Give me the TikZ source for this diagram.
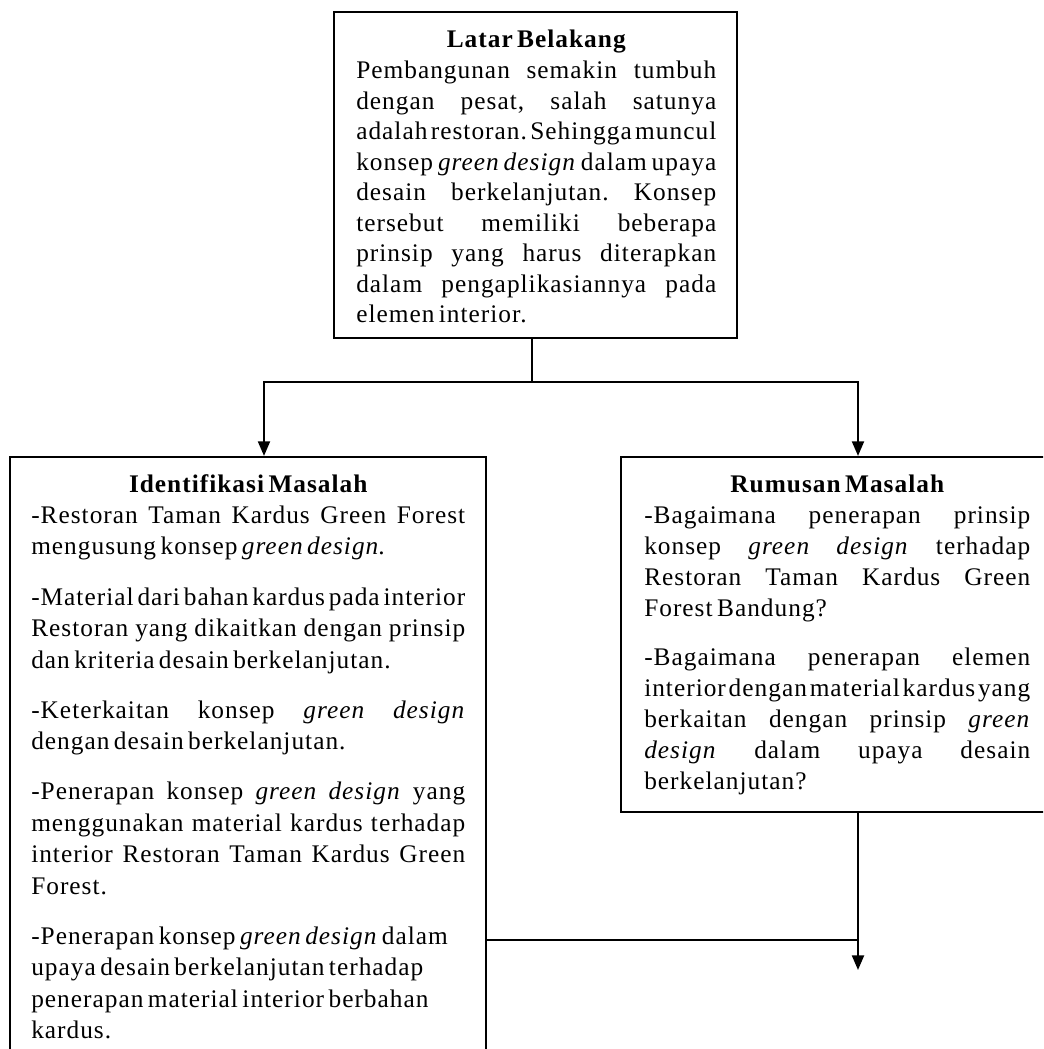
\documentclass[tikz,border=0pt]{standalone}
\usepackage{fontspec}
\setmainfont{Liberation Serif}[LetterSpace=4]
\usetikzlibrary{arrows.meta,fit}
\setlength{\parskip}{0pt}
\frenchspacing
\newcommand{\jl}[1]{\hbox to\linewidth{\spaceskip=0.22em plus 1fil minus 0.18em\relax\xspaceskip=\spaceskip #1}}
\newcommand{\hd}[1]{\hbox to\linewidth{\hfil\bfseries #1\hfil}}
\newcommand{\gd}{\textit{green design}}
\newcommand{\pgap}{\vspace{14pt}}
\begin{document}
\begin{tikzpicture}[x=0.75pt,y=-0.75pt,
  box/.style={draw, line width=1.6pt, inner sep=0pt},
  txt/.style={inner sep=0pt, anchor=base west},
  conn/.style={line width=1.6pt},
  arr/.style={conn, -{Triangle[length=11pt,width=9pt]}}]
\useasboundingbox (0,0) rectangle (1043,1049);
\clip (0,0) rectangle (1043,1049);
% boxes
\node[box, fit={(334,12) (737,338)}] (lb) {};
\node[box, fit={(10,457) (486,1080)}] (idm) {};
\node[box, fit={(621,457) (1060,812)}] (rm) {};
% texts
\node[txt, text width=270pt] (lbt) at (356,48) {\fontsize{19}{22.9}\selectfont
\hd{Latar Belakang}
\jl{Pembangunan semakin tumbuh}
\jl{dengan pesat, salah satunya}
\jl{adalah restoran. Sehingga muncul}
\jl{konsep \gd{} dalam upaya}
\jl{desain berkelanjutan. Konsep}
\jl{tersebut memiliki beberapa}
\jl{prinsip yang harus diterapkan}
\jl{dalam pengaplikasiannya pada}
elemen interior.\par};
\node[txt, text width=325.5pt] (idmt) at (31,492) {\fontsize{19}{23.6}\selectfont
\hd{Identifikasi Masalah}
\jl{-Restoran Taman Kardus Green Forest}
mengusung konsep \gd.\par\pgap
\jl{-Material dari bahan kardus pada interior}
\jl{Restoran yang dikaitkan dengan prinsip}
dan kriteria desain berkelanjutan.\par\pgap
\jl{-Keterkaitan konsep \gd}
dengan desain berkelanjutan.\par\pgap
\jl{-Penerapan konsep \gd{} yang}
\jl{menggunakan material kardus terhadap}
\jl{interior Restoran Taman Kardus Green}
Forest.\par\pgap
-Penerapan konsep \gd{} dalam\par
upaya desain berkelanjutan terhadap\par
penerapan material interior berbahan\par
kardus.\par};
\node[txt, text width=289.5pt] (rmt) at (644,492) {\fontsize{19}{23.25}\selectfont
\hd{Rumusan Masalah}
\jl{-Bagaimana penerapan prinsip}
\jl{konsep \gd{} terhadap}
\jl{Restoran Taman Kardus Green}
Forest Bandung?\par\pgap
\jl{-Bagaimana penerapan elemen}
\jl{interior dengan material kardus yang}
\jl{berkaitan dengan prinsip \textit{green}}
\jl{\textit{design} dalam upaya desain}
berkelanjutan?\par};
% connectors
\coordinate (jn) at (532,382);
\coordinate (aL) at (264,382);
\coordinate (aR) at (858,382);
\coordinate (mid) at (858,940);
\coordinate (tip) at (858,970);
\draw[conn] (jn |- lb.south) -- (jn);
\draw[arr] (jn) -| (idm.north -| aL);
\draw[arr] (jn) -| (rm.north -| aR);
\draw[arr] (rm.south -| aR) -- (tip);
\draw[conn] (idm.east |- mid) -- (mid);
\end{tikzpicture}
\end{document}
